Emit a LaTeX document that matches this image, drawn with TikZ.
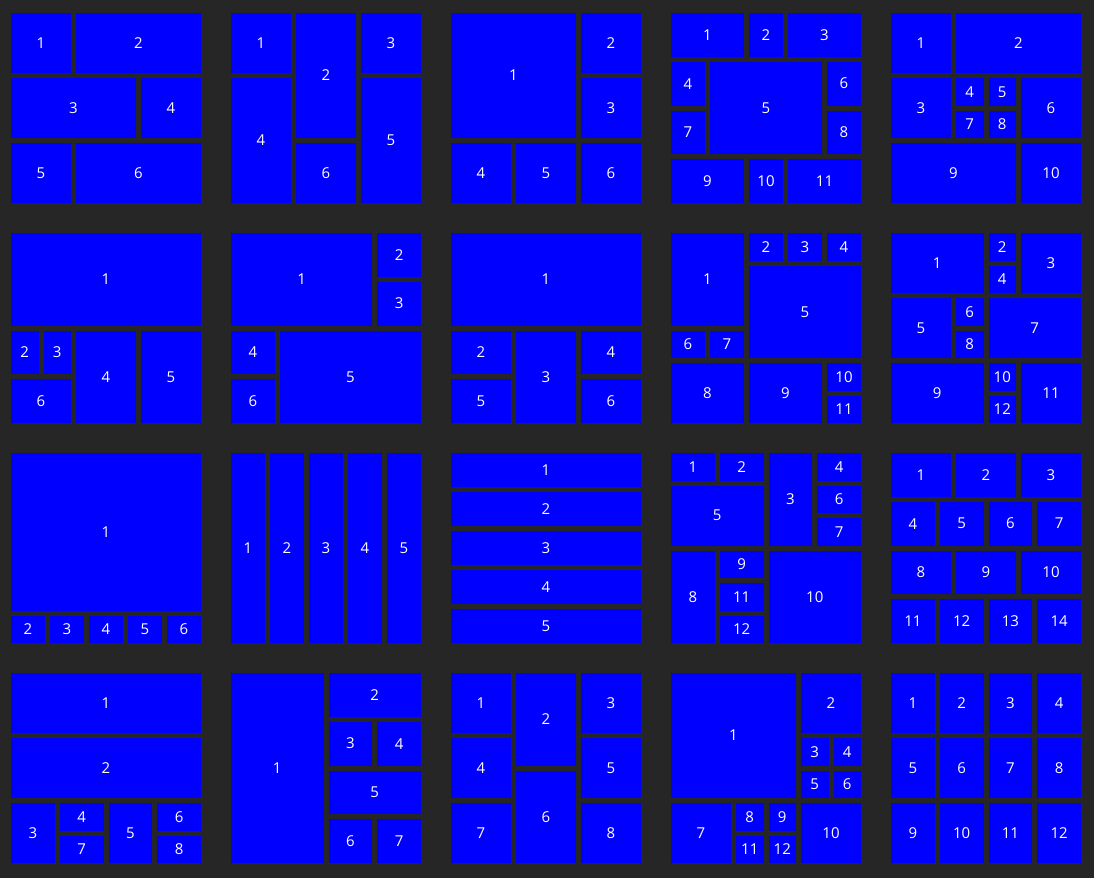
\documentclass[tikz,border=0pt]{standalone}
\usepackage{fontspec}
\setmainfont{Open Sans}
\definecolor{bgc}{RGB}{38,38,38}
\definecolor{tilec}{RGB}{0,0,255}
\tikzset{tilebox/.style={fill=tilec, draw=none, inner sep=0pt, outer sep=0pt, text=white, font=\fontsize{11.25}{13}\selectfont}}
% \tl{panel col}{panel row}{nx}{c1}{c2}{ny}{r1}{r2}{label}
\newcommand\tl[9]{%
 \pgfmathsetmacro\wx{(190-5*(#3-1))/#3}%
 \pgfmathsetmacro\xa{11+220*#1+#4*(\wx+5)}%
 \pgfmathsetmacro\xb{11+220*#1+(#5+1)*(\wx+5)-5}%
 \pgfmathsetmacro\wy{(190-5*(#6-1))/#6}%
 \pgfmathsetmacro\ya{13+220*#2+#7*(\wy+5)}%
 \pgfmathsetmacro\yb{13+220*#2+(#8+1)*(\wy+5)-5}%
 \pgfmathsetmacro\ww{(\xb-\xa)*0.75}%
 \pgfmathsetmacro\hh{(\yb-\ya)*0.75}%
 \pgfmathsetmacro\cx{(\xa+\xb)/2*0.75}%
 \pgfmathsetmacro\cy{-(\ya+\yb)/2*0.75}%
 \node[tilebox, minimum width=\ww pt, minimum height=\hh pt] (t#1#2n#9) at (\cx pt,\cy pt) {#9};}
\begin{document}
\begin{tikzpicture}
\fill[bgc] (0,0) rectangle (820.5pt,-658.5pt);
\useasboundingbox (0,0) rectangle (820.5pt,-658.5pt);
% ---- row 0 ----
\tl{0}{0}{3}{0}{0}{3}{0}{0}{1}
\tl{0}{0}{3}{1}{2}{3}{0}{0}{2}
\tl{0}{0}{3}{0}{1}{3}{1}{1}{3}
\tl{0}{0}{3}{2}{2}{3}{1}{1}{4}
\tl{0}{0}{3}{0}{0}{3}{2}{2}{5}
\tl{0}{0}{3}{1}{2}{3}{2}{2}{6}
%
\tl{1}{0}{3}{0}{0}{3}{0}{0}{1}
\tl{1}{0}{3}{1}{1}{3}{0}{1}{2}
\tl{1}{0}{3}{2}{2}{3}{0}{0}{3}
\tl{1}{0}{3}{0}{0}{3}{1}{2}{4}
\tl{1}{0}{3}{2}{2}{3}{1}{2}{5}
\tl{1}{0}{3}{1}{1}{3}{2}{2}{6}
%
\tl{2}{0}{3}{0}{1}{3}{0}{1}{1}
\tl{2}{0}{3}{2}{2}{3}{0}{0}{2}
\tl{2}{0}{3}{2}{2}{3}{1}{1}{3}
\tl{2}{0}{3}{0}{0}{3}{2}{2}{4}
\tl{2}{0}{3}{1}{1}{3}{2}{2}{5}
\tl{2}{0}{3}{2}{2}{3}{2}{2}{6}
%
\tl{3}{0}{5}{0}{1}{4}{0}{0}{1}
\tl{3}{0}{5}{2}{2}{4}{0}{0}{2}
\tl{3}{0}{5}{3}{4}{4}{0}{0}{3}
\tl{3}{0}{5}{0}{0}{4}{1}{1}{4}
\tl{3}{0}{5}{1}{3}{4}{1}{2}{5}
\tl{3}{0}{5}{4}{4}{4}{1}{1}{6}
\tl{3}{0}{5}{0}{0}{4}{2}{2}{7}
\tl{3}{0}{5}{4}{4}{4}{2}{2}{8}
\tl{3}{0}{5}{0}{1}{4}{3}{3}{9}
\tl{3}{0}{5}{2}{2}{4}{3}{3}{10}
\tl{3}{0}{5}{3}{4}{4}{3}{3}{11}
%
\tl{4}{0}{6}{0}{1}{6}{0}{1}{1}
\tl{4}{0}{6}{2}{5}{6}{0}{1}{2}
\tl{4}{0}{6}{0}{1}{6}{2}{3}{3}
\tl{4}{0}{6}{2}{2}{6}{2}{2}{4}
\tl{4}{0}{6}{3}{3}{6}{2}{2}{5}
\tl{4}{0}{6}{4}{5}{6}{2}{3}{6}
\tl{4}{0}{6}{2}{2}{6}{3}{3}{7}
\tl{4}{0}{6}{3}{3}{6}{3}{3}{8}
\tl{4}{0}{6}{0}{3}{6}{4}{5}{9}
\tl{4}{0}{6}{4}{5}{6}{4}{5}{10}
% ---- row 1 ----
\tl{0}{1}{6}{0}{5}{4}{0}{1}{1}
\tl{0}{1}{6}{0}{0}{4}{2}{2}{2}
\tl{0}{1}{6}{1}{1}{4}{2}{2}{3}
\tl{0}{1}{6}{2}{3}{4}{2}{3}{4}
\tl{0}{1}{6}{4}{5}{4}{2}{3}{5}
\tl{0}{1}{6}{0}{1}{4}{3}{3}{6}
%
\tl{1}{1}{4}{0}{2}{4}{0}{1}{1}
\tl{1}{1}{4}{3}{3}{4}{0}{0}{2}
\tl{1}{1}{4}{3}{3}{4}{1}{1}{3}
\tl{1}{1}{4}{0}{0}{4}{2}{2}{4}
\tl{1}{1}{4}{1}{3}{4}{2}{3}{5}
\tl{1}{1}{4}{0}{0}{4}{3}{3}{6}
%
\tl{2}{1}{3}{0}{2}{4}{0}{1}{1}
\tl{2}{1}{3}{0}{0}{4}{2}{2}{2}
\tl{2}{1}{3}{1}{1}{4}{2}{3}{3}
\tl{2}{1}{3}{2}{2}{4}{2}{2}{4}
\tl{2}{1}{3}{0}{0}{4}{3}{3}{5}
\tl{2}{1}{3}{2}{2}{4}{3}{3}{6}
%
\tl{3}{1}{5}{0}{1}{6}{0}{2}{1}
\tl{3}{1}{5}{2}{2}{6}{0}{0}{2}
\tl{3}{1}{5}{3}{3}{6}{0}{0}{3}
\tl{3}{1}{5}{4}{4}{6}{0}{0}{4}
\tl{3}{1}{5}{2}{4}{6}{1}{3}{5}
\tl{3}{1}{5}{0}{0}{6}{3}{3}{6}
\tl{3}{1}{5}{1}{1}{6}{3}{3}{7}
\tl{3}{1}{5}{0}{1}{6}{4}{5}{8}
\tl{3}{1}{5}{2}{3}{6}{4}{5}{9}
\tl{3}{1}{5}{4}{4}{6}{4}{4}{10}
\tl{3}{1}{5}{4}{4}{6}{5}{5}{11}
%
\tl{4}{1}{6}{0}{2}{6}{0}{1}{1}
\tl{4}{1}{6}{3}{3}{6}{0}{0}{2}
\tl{4}{1}{6}{4}{5}{6}{0}{1}{3}
\tl{4}{1}{6}{3}{3}{6}{1}{1}{4}
\tl{4}{1}{6}{0}{1}{6}{2}{3}{5}
\tl{4}{1}{6}{2}{2}{6}{2}{2}{6}
\tl{4}{1}{6}{3}{5}{6}{2}{3}{7}
\tl{4}{1}{6}{2}{2}{6}{3}{3}{8}
\tl{4}{1}{6}{0}{2}{6}{4}{5}{9}
\tl{4}{1}{6}{3}{3}{6}{4}{4}{10}
\tl{4}{1}{6}{4}{5}{6}{4}{5}{11}
\tl{4}{1}{6}{3}{3}{6}{5}{5}{12}
% ---- row 2 ----
\tl{0}{2}{5}{0}{4}{6}{0}{4}{1}
\tl{0}{2}{5}{0}{0}{6}{5}{5}{2}
\tl{0}{2}{5}{1}{1}{6}{5}{5}{3}
\tl{0}{2}{5}{2}{2}{6}{5}{5}{4}
\tl{0}{2}{5}{3}{3}{6}{5}{5}{5}
\tl{0}{2}{5}{4}{4}{6}{5}{5}{6}
%
\tl{1}{2}{5}{0}{0}{1}{0}{0}{1}
\tl{1}{2}{5}{1}{1}{1}{0}{0}{2}
\tl{1}{2}{5}{2}{2}{1}{0}{0}{3}
\tl{1}{2}{5}{3}{3}{1}{0}{0}{4}
\tl{1}{2}{5}{4}{4}{1}{0}{0}{5}
%
\tl{2}{2}{1}{0}{0}{5}{0}{0}{1}
\tl{2}{2}{1}{0}{0}{5}{1}{1}{2}
\tl{2}{2}{1}{0}{0}{5}{2}{2}{3}
\tl{2}{2}{1}{0}{0}{5}{3}{3}{4}
\tl{2}{2}{1}{0}{0}{5}{4}{4}{5}
%
\tl{3}{2}{4}{0}{0}{6}{0}{0}{1}
\tl{3}{2}{4}{1}{1}{6}{0}{0}{2}
\tl{3}{2}{4}{2}{2}{6}{0}{2}{3}
\tl{3}{2}{4}{3}{3}{6}{0}{0}{4}
\tl{3}{2}{4}{0}{1}{6}{1}{2}{5}
\tl{3}{2}{4}{3}{3}{6}{1}{1}{6}
\tl{3}{2}{4}{3}{3}{6}{2}{2}{7}
\tl{3}{2}{4}{0}{0}{6}{3}{5}{8}
\tl{3}{2}{4}{1}{1}{6}{3}{3}{9}
\tl{3}{2}{4}{2}{3}{6}{3}{5}{10}
\tl{3}{2}{4}{1}{1}{6}{4}{4}{11}
\tl{3}{2}{4}{1}{1}{6}{5}{5}{12}
%
\tl{4}{2}{3}{0}{0}{4}{0}{0}{1}
\tl{4}{2}{3}{1}{1}{4}{0}{0}{2}
\tl{4}{2}{3}{2}{2}{4}{0}{0}{3}
\tl{4}{2}{4}{0}{0}{4}{1}{1}{4}
\tl{4}{2}{4}{1}{1}{4}{1}{1}{5}
\tl{4}{2}{4}{2}{2}{4}{1}{1}{6}
\tl{4}{2}{4}{3}{3}{4}{1}{1}{7}
\tl{4}{2}{3}{0}{0}{4}{2}{2}{8}
\tl{4}{2}{3}{1}{1}{4}{2}{2}{9}
\tl{4}{2}{3}{2}{2}{4}{2}{2}{10}
\tl{4}{2}{4}{0}{0}{4}{3}{3}{11}
\tl{4}{2}{4}{1}{1}{4}{3}{3}{12}
\tl{4}{2}{4}{2}{2}{4}{3}{3}{13}
\tl{4}{2}{4}{3}{3}{4}{3}{3}{14}
% ---- row 3 ----
\tl{0}{3}{4}{0}{3}{6}{0}{1}{1}
\tl{0}{3}{4}{0}{3}{6}{2}{3}{2}
\tl{0}{3}{4}{0}{0}{6}{4}{5}{3}
\tl{0}{3}{4}{1}{1}{6}{4}{4}{4}
\tl{0}{3}{4}{2}{2}{6}{4}{5}{5}
\tl{0}{3}{4}{3}{3}{6}{4}{4}{6}
\tl{0}{3}{4}{1}{1}{6}{5}{5}{7}
\tl{0}{3}{4}{3}{3}{6}{5}{5}{8}
%
\tl{1}{3}{4}{0}{1}{4}{0}{3}{1}
\tl{1}{3}{4}{2}{3}{4}{0}{0}{2}
\tl{1}{3}{4}{2}{2}{4}{1}{1}{3}
\tl{1}{3}{4}{3}{3}{4}{1}{1}{4}
\tl{1}{3}{4}{2}{3}{4}{2}{2}{5}
\tl{1}{3}{4}{2}{2}{4}{3}{3}{6}
\tl{1}{3}{4}{3}{3}{4}{3}{3}{7}
%
\tl{2}{3}{3}{0}{0}{3}{0}{0}{1}
\tl{2}{3}{3}{1}{1}{4}{0}{1}{2}
\tl{2}{3}{3}{2}{2}{3}{0}{0}{3}
\tl{2}{3}{3}{0}{0}{3}{1}{1}{4}
\tl{2}{3}{3}{2}{2}{3}{1}{1}{5}
\tl{2}{3}{3}{1}{1}{4}{2}{3}{6}
\tl{2}{3}{3}{0}{0}{3}{2}{2}{7}
\tl{2}{3}{3}{2}{2}{3}{2}{2}{8}
%
\tl{3}{3}{6}{0}{3}{6}{0}{3}{1}
\tl{3}{3}{6}{4}{5}{6}{0}{1}{2}
\tl{3}{3}{6}{4}{4}{6}{2}{2}{3}
\tl{3}{3}{6}{5}{5}{6}{2}{2}{4}
\tl{3}{3}{6}{4}{4}{6}{3}{3}{5}
\tl{3}{3}{6}{5}{5}{6}{3}{3}{6}
\tl{3}{3}{6}{0}{1}{6}{4}{5}{7}
\tl{3}{3}{6}{2}{2}{6}{4}{4}{8}
\tl{3}{3}{6}{3}{3}{6}{4}{4}{9}
\tl{3}{3}{6}{4}{5}{6}{4}{5}{10}
\tl{3}{3}{6}{2}{2}{6}{5}{5}{11}
\tl{3}{3}{6}{3}{3}{6}{5}{5}{12}
%
\tl{4}{3}{4}{0}{0}{3}{0}{0}{1}
\tl{4}{3}{4}{1}{1}{3}{0}{0}{2}
\tl{4}{3}{4}{2}{2}{3}{0}{0}{3}
\tl{4}{3}{4}{3}{3}{3}{0}{0}{4}
\tl{4}{3}{4}{0}{0}{3}{1}{1}{5}
\tl{4}{3}{4}{1}{1}{3}{1}{1}{6}
\tl{4}{3}{4}{2}{2}{3}{1}{1}{7}
\tl{4}{3}{4}{3}{3}{3}{1}{1}{8}
\tl{4}{3}{4}{0}{0}{3}{2}{2}{9}
\tl{4}{3}{4}{1}{1}{3}{2}{2}{10}
\tl{4}{3}{4}{2}{2}{3}{2}{2}{11}
\tl{4}{3}{4}{3}{3}{3}{2}{2}{12}
\end{tikzpicture}
\end{document}
